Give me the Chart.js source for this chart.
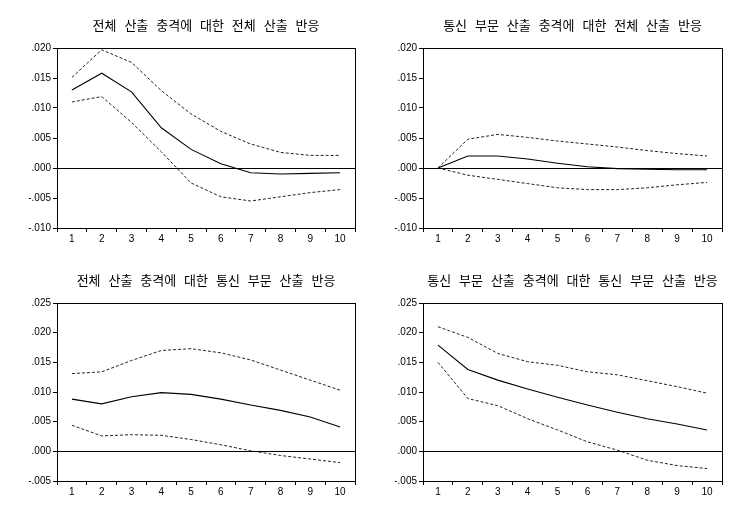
<!DOCTYPE html>
<html>
<head>
<meta charset="utf-8">
<script src="https://cdn.jsdelivr.net/npm/chart.js@4/dist/chart.umd.min.js"></script>
<style>
html,body{margin:0;padding:0;background:#fff;}
#wrap{position:relative;width:750px;height:520px;background:#fff;}
.cv{position:absolute;}
</style>
</head>
<body>
<div id="wrap">
<div class="cv" style="left:0;top:0;width:375px;height:255px"><canvas id="c1"></canvas></div>
<div class="cv" style="left:375px;top:0;width:375px;height:255px"><canvas id="c2"></canvas></div>
<div class="cv" style="left:0;top:255px;width:375px;height:265px"><canvas id="c3"></canvas></div>
<div class="cv" style="left:375px;top:255px;width:375px;height:265px"><canvas id="c4"></canvas></div>
</div>
<script>
const periods = ['1','2','3','4','5','6','7','8','9','10'];

const titles = [
  '전체 산출 충격에 대한 전체 산출 반응',
  '통신 부문 산출 충격에 대한 전체 산출 반응',
  '전체 산출 충격에 대한 통신 부문 산출 반응',
  '통신 부문 산출 충격에 대한 통신 부문 산출 반응'
];

// Panel 1: total output response to total output shock
const resp1  = [0.0130, 0.0158, 0.0127, 0.0067, 0.0031, 0.0007, -0.0008, -0.0010, -0.0009, -0.0008];
const upper1 = [0.0151, 0.0197, 0.0176, 0.0129, 0.0090, 0.0061, 0.0040, 0.0026, 0.0021, 0.0021];
const lower1 = [0.0110, 0.0119, 0.0076, 0.0027, -0.0025, -0.0048, -0.0055, -0.0048, -0.0041, -0.0036];

// Panel 2: total output response to telecom output shock
const resp2  = [0.0000, 0.0020, 0.0020, 0.0015, 0.0008, 0.0002, -0.0001, -0.0002, -0.0003, -0.0003];
const upper2 = [0.0000, 0.0048, 0.0056, 0.0051, 0.0045, 0.0040, 0.0035, 0.0029, 0.0024, 0.0020];
const lower2 = [0.0000, -0.0012, -0.0019, -0.0026, -0.0033, -0.0036, -0.0036, -0.0033, -0.0028, -0.0024];

// Panel 3: telecom output response to total output shock
const resp3  = [0.0088, 0.0080, 0.0092, 0.0099, 0.0096, 0.0088, 0.0078, 0.0069, 0.0058, 0.0041];
const upper3 = [0.0131, 0.0134, 0.0153, 0.0170, 0.0173, 0.0166, 0.0154, 0.0137, 0.0120, 0.0103];
const lower3 = [0.0044, 0.0026, 0.0028, 0.0027, 0.0020, 0.0011, 0.0001, -0.0007, -0.0013, -0.0019];

// Panel 4: telecom output response to telecom output shock
const resp4  = [0.0179, 0.0138, 0.0120, 0.0105, 0.0091, 0.0078, 0.0066, 0.0055, 0.0046, 0.0036];
const upper4 = [0.0210, 0.0192, 0.0165, 0.0151, 0.0145, 0.0134, 0.0129, 0.0119, 0.0109, 0.0098];
const lower4 = [0.0150, 0.0089, 0.0077, 0.0055, 0.0036, 0.0016, 0.0002, -0.0015, -0.0024, -0.0029];

const yRangeTop = [-0.010, 0.020];
const yRangeBottom = [-0.005, 0.025];

const framePlugin = {
  id: 'frame',
  beforeDraw(chart) {
    if ('wordSpacing' in chart.ctx) chart.ctx.wordSpacing = '5px';
  },
  afterDatasetsDraw(chart) {
    const a = chart.chartArea, ctx = chart.ctx;
    const y0 = Math.round(chart.scales.y.getPixelForValue(0)) + 0.5;
    ctx.save();
    ctx.strokeStyle = '#000';
    ctx.lineWidth = 1;
    ctx.beginPath();
    ctx.moveTo(a.left, y0); ctx.lineTo(a.right, y0);
    ctx.stroke();
    ctx.strokeRect(Math.round(a.left) + 0.5, Math.round(a.top) + 0.5,
                   Math.round(a.right - a.left), Math.round(a.bottom - a.top));
    ctx.restore();
  }
};

function fmt(v) {
  let s = Math.abs(v) < 1e-9 ? '0.000' : v.toFixed(3);
  return s.replace('0.', '.');
}

function makeChart(id, title, resp, up, lo, range, yW, padR, xH) {
  const dashed = {borderColor:'#222', borderWidth:1, borderDash:[3,2], pointRadius:0, tension:0, fill:false};
  new Chart(document.getElementById(id), {
    type: 'line',
    data: {
      labels: periods,
      datasets: [
        Object.assign({data: up}, dashed),
        Object.assign({data: lo}, dashed),
        {data: resp, borderColor:'#000', borderWidth:1.1, pointRadius:0, tension:0, fill:false}
      ]
    },
    options: {
      responsive: true,
      maintainAspectRatio: false,
      animation: false,
      devicePixelRatio: 1,
      layout: {padding: {left:0, right:padR, top:0, bottom:0}},
      plugins: {
        legend: {display:false},
        tooltip: {enabled:false},
        title: {
          display: true, text: title, color:'#000', fullSize: false,
          font: {family:'"Noto Sans CJK KR", "Noto Sans", sans-serif', size:13, weight:'normal', lineHeight:1.2},
          padding: {top:17, bottom:15.4}
        }
      },
      scales: {
        x: {
          type: 'category',
          offset: true,
          grid: {offset:true, drawOnChartArea:false, drawTicks:true, tickLength:4, color:'#000'},
          border: {display:true, color:'#000'},
          ticks: {color:'#000', font:{family:'"Liberation Sans", Arial, sans-serif', size:10}, padding:1, maxRotation:0, autoSkip:false},
          afterFit(s) { s.height = xH; }
        },
        y: {
          min: range[0], max: range[1],
          grid: {drawOnChartArea:false, drawTicks:true, tickLength:4, color:'#000'},
          border: {display:true, color:'#000'},
          ticks: {stepSize:0.005, color:'#000', padding:2, font:{family:'"Liberation Sans", Arial, sans-serif', size:10}, callback: (v) => fmt(v)},
          afterFit(s) { s.width = yW; }
        }
      }
    },
    plugins: [framePlugin]
  });
}

makeChart('c1', titles[0], resp1, upper1, lower1, yRangeTop, 57, 20, 27);
makeChart('c2', titles[1], resp2, upper2, lower2, yRangeTop, 48, 28, 27);
makeChart('c3', titles[2], resp3, upper3, lower3, yRangeBottom, 57, 20, 39);
makeChart('c4', titles[3], resp4, upper4, lower4, yRangeBottom, 48, 28, 39);
</script>
</body>
</html>
